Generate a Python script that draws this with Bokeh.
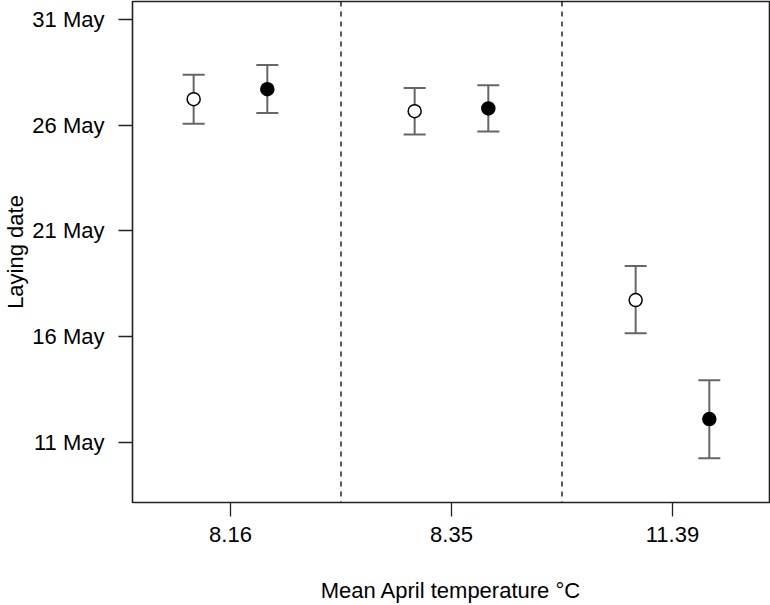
from bokeh.plotting import figure
from bokeh.models import ColumnDataSource, Whisker, TeeHead, FixedTicker, Span, Range1d
from bokeh.transform import dodge
from bokeh.embed import file_html
from bokeh.resources import INLINE

# ---- data (laying date as day of May) ----
temperatures = ["8.16", "8.35", "11.39"]
group_pos = [1, 2, 3]
open_mean = [27.23, 26.66, 17.72]
open_lower = [26.06, 25.56, 16.15]
open_upper = [28.38, 27.76, 19.33]
filled_mean = [27.70, 26.79, 12.09]
filled_lower = [26.57, 25.70, 10.24]
filled_upper = [28.85, 27.89, 13.93]
y_tick_values = [11, 16, 21, 26, 31]
y_tick_labels = ["11 May", "16 May", "21 May", "26 May", "31 May"]
separators = [1.5, 2.5]

FONT = "Liberation Sans"
FS = "22px"

p = figure(width=770, height=605, output_backend="svg", toolbar_location=None,
           x_range=Range1d(0.5566, 3.439), y_range=Range1d(8.143, 31.85),
           min_border_left=132, min_border_right=1, min_border_top=1,
           min_border_bottom=102)
p.background_fill_color = "white"
p.border_fill_color = "white"
p.xgrid.visible = False
p.ygrid.visible = False
p.outline_line_color = "#222222"
p.outline_line_width = 1.6

src_open = ColumnDataSource(dict(x=group_pos, m=open_mean, lo=open_lower, hi=open_upper))
src_fill = ColumnDataSource(dict(x=group_pos, m=filled_mean, lo=filled_lower, hi=filled_upper))

for xv in separators:
    p.add_layout(Span(location=xv, dimension="height", line_color="black",
                      line_width=1.3, line_dash="5 5"))

for src, off in ((src_open, -1 / 6), (src_fill, 1 / 6)):
    w = Whisker(source=src, base=dodge("x", off), lower="lo", upper="hi",
                line_color="#666666", line_width=2,
                upper_head=TeeHead(size=22, line_color="#666666", line_width=2),
                lower_head=TeeHead(size=22, line_color="#666666", line_width=2))
    p.add_layout(w)

p.scatter(x=dodge("x", -1 / 6), y="m", source=src_open, size=13,
          fill_color="white", line_color="black", line_width=1.5)
p.scatter(x=dodge("x", 1 / 6), y="m", source=src_fill, size=13,
          fill_color="black", line_color="black", line_width=1.5)

# x axis
p.xaxis.ticker = FixedTicker(ticks=group_pos)
p.xaxis.major_label_overrides = {g: t for g, t in zip(group_pos, temperatures)}
p.xaxis.axis_label = "Mean April temperature °C"
# y axis
p.yaxis.ticker = FixedTicker(ticks=y_tick_values)
p.yaxis.major_label_overrides = {v: t for v, t in zip(y_tick_values, y_tick_labels)}
p.yaxis.axis_label = "Laying date"

for ax in (p.xaxis[0], p.yaxis[0]):
    ax.axis_line_color = None
    ax.minor_tick_line_color = None
    ax.major_tick_in = 0
    ax.major_tick_out = 14
    ax.major_tick_line_color = "#222222"
    ax.major_tick_line_width = 1.3
    ax.major_label_text_font = FONT
    ax.major_label_text_font_size = FS
    ax.major_label_text_color = "black"
    ax.axis_label_text_font = FONT
    ax.axis_label_text_font_size = FS
    ax.axis_label_text_font_style = "normal"
    ax.axis_label_text_color = "black"

p.xaxis.major_label_standoff = 10
p.xaxis.axis_label_standoff = 33
p.yaxis.major_label_standoff = 14
p.yaxis.axis_label_standoff = 1

open("out.html", "w").write(file_html(p, INLINE))
